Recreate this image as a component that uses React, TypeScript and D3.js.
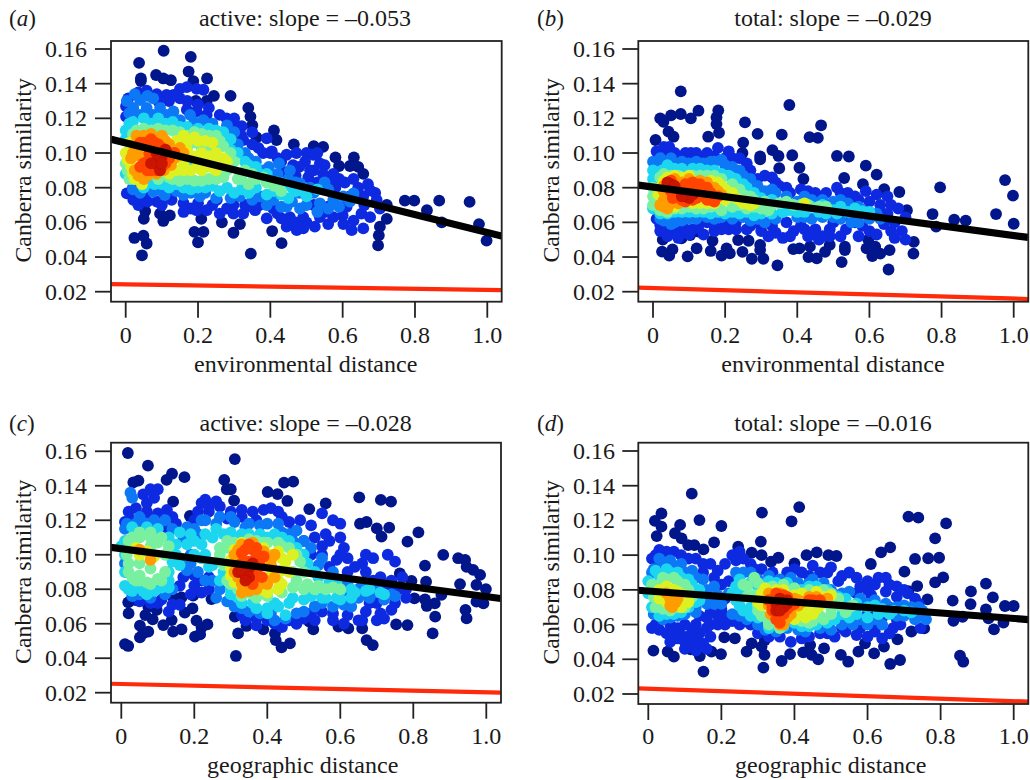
import React from "react";
import * as d3 from "d3";

type P = [number, number];

const xTicks = [0, 0.2, 0.4, 0.6, 0.8, 1.0];
const xTickLabels = ["0", "0.2", "0.4", "0.6", "0.8", "1.0"];
const yTicks = [0.02, 0.04, 0.06, 0.08, 0.1, 0.12, 0.14, 0.16];
const densityColours = ["#00138a", "#0a2be0", "#0c78f5", "#1cd6f0", "#78f0a0", "#dcf020", "#ff9c00", "#ff4400", "#c81200"];

const aL0: P[] = [[.105,.159],[.18,.1555],[.037,.152],[.174,.147],[.042,.143],[.042,.1415],[.084,.145],[.104,.143],[.125,.142],[.225,.143],[.187,.1415],[.29,.133],[.244,.133],[.224,.13],[.194,.13],[.339,.126],[.345,.121],[.35,.116],[.41,.113],[.362,.109],[.417,.1075],[.465,.105],[.52,.104],[.546,.1035],[.58,.0975],[.631,.0975],[.59,.0925],[.62,.0925],[.643,.092],[.657,.088],[.772,.0725],[.798,.0725],[.867,.0725],[.951,.0718],[.833,.067],[.977,.059],[.874,.06],[.998,.0495],[.722,.07],[.722,.062],[.698,.0467],[.7,.0525],[.703,.0575],[.431,.048],[.405,.055],[.346,.042],[.298,.054],[.316,.059],[.266,.06],[.2,.0485],[.19,.0545],[.215,.0545],[.209,.062],[.045,.041],[.058,.0478],[.024,.051],[.049,.0523],[.05,.062],[.054,.0665],[.104,.0608],[.095,.065],[.122,.064]];
const aL1: P[] = [[.15,.137],[.169,.138],[.196,.137],[.215,.1365],[.132,.1335],[.15,.1315],[.007,.1315],[.001,.127],[.001,.121],[.035,.135],[.058,.136],[.086,.134],[.113,.1335],[.169,.125],[.196,.124],[.224,.122],[.279,.12],[.298,.116],[.321,.1155],[.325,.1075],[.39,.1085],[.367,.103],[.404,.101],[.445,.099],[.472,.1],[.463,.093],[.496,.095],[.519,.099],[.537,.094],[.505,.086],[.546,.088],[.574,.088],[.606,.083],[.643,.08],[.676,.0785],[.657,.075],[.694,.073],[.703,.068],[.652,.065],[.676,.063],[.63,.061],[.657,.0565],[.625,.0555],[.602,.059],[.56,.059],[.523,.0575],[.491,.0565],[.473,.0555],[.445,.0575],[.431,.0623],[.39,.0623],[.358,.067],[.325,.065],[.298,.065],[.26,.065],[.224,.067],[.196,.067],[.16,.066],[.16,.071],[.252,.073],[.298,.07],[.335,.069],[.38,.071],[.408,.068],[.454,.063],[.491,.063],[.537,.063],[.574,.063],[.56,.069],[.611,.069],[.003,.0767],[.021,.073],[.035,.07],[.086,.072],[.127,.073],[.06,.072],[.4,.1],[.43,.095],[.47,.087],[.53,.083],[.58,.08],[.62,.075],[.66,.07],[.6,.064],[.55,.066],[.52,.07],[.5,.06],[.47,.06],[.42,.065],[.37,.07],[.33,.07],[.28,.068],[.24,.07],[.2,.071],[.18,.068],[.12,.077],[.02,.08],[.05,.075],[.1,.07],[.17,.13],[.12,.13],[.09,.13],[.2,.128],[.23,.126],[.26,.122],[.3,.12],[.32,.11],[.35,.105],[.38,.1],[.42,.097],[.51,.09],[.59,.085],[.63,.085],[.67,.082],[.69,.077],[.44,.089],[.48,.092],[.5,.1],[.53,.1],[.55,.093],[.57,.085],[.52,.09],[.35,.112]];
const aL2: P[] = [[.003,.13],[.04,.1305],[.076,.1315],[.021,.126],[.058,.126],[.095,.126],[.132,.124],[.178,.122],[.113,.122],[.215,.119],[.025,.134],[.06,.133],[.424,.094],[.396,.092],[.454,.09],[.482,.0825],[.537,.071],[.574,.073],[.602,.075],[.63,.0767],[.56,.079],[.52,.077],[.076,.0776],[.108,.0758],[.16,.0758],[.205,.075],[.25,.074],[.316,.075],[.371,.075],[.408,.073],[.445,.069],[.482,.068],[.3,.112],[.28,.116],[.33,.1],[.36,.095],[.01,.123],[.04,.122],[.075,.122],[.11,.118],[.15,.119],[.19,.118],[.24,.117],[.31,.105],[.34,.097],[.38,.09],[.42,.088],[.45,.085],[.48,.077],[.5,.07],[.53,.066],[.56,.068],[.59,.069],[.62,.072],[.46,.072],[.43,.069],[.39,.07],[.35,.073],[.29,.074],[.22,.077],[.18,.077],[.14,.078],[.1,.078],[.04,.077],[.02,.079],[.51,.08],[.55,.083],[.47,.083]];
const aL3: P[] = [[0,.113],[.02,.118],[.05,.12],[.09,.12],[.13,.118],[.17,.115],[.23,.114],[.27,.112],[.29,.108],[.31,.1],[.34,.093],[.37,.088],[.4,.084],[.44,.082],[.47,.078],[.5,.075],[.53,.079],[.45,.074],[.41,.078],[.36,.08],[.32,.079],[.28,.08],[.24,.081],[.2,.08],[.16,.08],[.12,.08],[.08,.082],[.05,.08],[0,.088],[.22,.092],[.26,.104],[.01,.117],[.07,.117],[.11,.117],[.15,.115],[.2,.114],[.25,.113],[.29,.102],[.33,.095],[.36,.092],[.39,.088],[.42,.083],[.46,.08],[.49,.078],[.43,.076],[.39,.076],[.34,.077],[.3,.077],[.26,.078],[.22,.08],[.18,.079],[.14,.082],[.1,.082],[.06,.083],[.02,.085],[0,.108],[.27,.092],[.25,.102],[.19,.094],[.16,.087]];
const aL4: P[] = [[.02,.111],[.05,.114],[.09,.114],[.13,.113],[.17,.11],[.21,.111],[.25,.11],[.27,.104],[.3,.095],[.33,.09],[.36,.085],[.39,.083],[.43,.078],[.31,.085],[.27,.086],[.23,.085],[.19,.084],[.15,.084],[.12,.086],[0,.094],[.01,.085],[.23,.104],[.19,.106],[.15,.112],[.11,.113],[.07,.113],[.03,.113],[.19,.112],[.23,.11],[.26,.107],[.21,.103],[.17,.103],[.29,.1],[.28,.09],[.25,.085],[.21,.084],[.17,.085],[.13,.085],[.09,.085],[.32,.085],[.35,.088],[.38,.086],[.41,.081],[.005,.09],[.005,.1],[.34,.082]];
const aL5: P[] = [[.03,.108],[.01,.106],[0,.1],[.015,.092],[.025,.085],[.045,.082],[.14,.107],[.17,.106],[.2,.107],[.24,.106],[.15,.1],[.19,.098],[.23,.098],[.27,.097],[.21,.09],[.18,.09],[.235,.092],[.14,.09],[.25,.09],[.12,.092],[.16,.11],[.19,.109],[.22,.107],[.17,.101],[.21,.1],[.25,.1],[.16,.094],[.2,.094],[.24,.095],[.12,.088],[.16,.09],[.02,.088],[.005,.096],[.02,.104],[.28,.095]];
const aL6: P[] = [[.025,.105],[.05,.11],[.1,.11],[.12,.105],[.015,.097],[.025,.09],[.05,.085],[.085,.088],[.13,.096],[.16,.1],[.02,.1],[.03,.11],[.07,.111],[.09,.108],[.11,.107],[.03,.103],[.04,.098],[.035,.087],[.06,.087],[.105,.09],[.14,.098],[.125,.093],[.15,.103]];
const aL7: P[] = [[.05,.106],[.07,.108],[.09,.105],[.065,.1],[.05,.094],[.07,.09],[.1,.092],[.12,.1],[.135,.1],[.04,.092],[.06,.104],[.08,.106],[.04,.106],[.1,.103],[.06,.095],[.06,.09],[.085,.09],[.11,.094],[.12,.097]];
const aL8: P[] = [[.085,.1],[.1,.098],[.11,.102],[.08,.094],[.095,.09],[.09,.096],[.1,.094],[.07,.094]];

const bL0: P[] = [[.077,.1356],[.378,.1277],[.466,.116],[.255,.1177],[.126,.1244],[.181,.1246],[.176,.1206],[.176,.1167],[.183,.1117],[.077,.1225],[.05,.1217],[.02,.12],[.029,.118],[.105,.12],[.043,.1123],[.057,.1094],[.007,.1075],[.153,.1094],[.29,.111],[.357,.1106],[.434,.1092],[.457,.1087],[.25,.106],[.248,.1],[.331,.1017],[.348,.0983],[.386,.0987],[.297,.098],[.297,.0963],[.51,.0983],[.543,.098],[.59,.0927],[.62,.0875],[.406,.0915],[.417,.085],[.35,.0912],[.53,.0856],[.582,.082],[.796,.0802],[.976,.0844],[.998,.0754],[.951,.0648],[1,.0592],[.867,.061],[.835,.0615],[.775,.0648],[.785,.0575],[.683,.0775],[.641,.0792],[.704,.067],[.723,.0487],[.722,.042],[.656,.044],[.653,.0328],[.523,.0371],[.345,.0352],[.306,.039],[.274,.039],[.248,.043],[.204,.045],[.19,.0408],[.213,.0421],[.16,.0435],[.121,.045],[.096,.0404],[.045,.0408],[.025,.0431],[.054,.0444],[.165,.0494],[.236,.0498],[.265,.0494],[.297,.047],[.297,.044],[.389,.0446],[.406,.045],[.431,.04],[.454,.0392],[.477,.043],[.532,.046],[.532,.044],[.592,.045],[.608,.0406],[.63,.042],[.616,.046],[.597,.05],[.49,.047],[.435,.046],[.027,.05],[.103,.0527],[.079,.0508],[.126,.0547]];
const bL1: P[] = [[.01,.101],[.03,.1035],[.045,.1035],[.015,.098],[.04,.098],[.08,.097],[.105,.1],[.13,.097],[.15,.1],[.18,.103],[.21,.101],[.24,.097],[.27,.09],[.29,.085],[.33,.086],[.35,.081],[.37,.08],[.41,.079],[.45,.077],[.48,.077],[.51,.08],[.54,.077],[.57,.073],[.6,.072],[.62,.076],[.65,.075],[.66,.07],[.68,.068],[.7,.063],[.69,.055],[.7,.05],[.67,.051],[.64,.059],[.6,.055],[.57,.052],[.535,.056],[.49,.056],[.46,.05],[.43,.052],[.39,.055],[.36,.051],[.32,.052],[.3,.055],[.26,.056],[.21,.056],[.19,.056],[.125,.057],[.1,.053],[.07,.056],[.05,.054],[.03,.057],[.01,.062],[.02,.0585],[.05,.061],[.08,.058],[.13,.06],[.17,.058],[.23,.06],[.33,.058],[.37,.06],[.41,.058],[.45,.056],[.5,.06],[.56,.06],[.63,.066],[.06,.1],[.09,.1],[.12,.1],[.17,.098],[.2,.097],[.22,.097],[.26,.094],[.31,.087],[.34,.083],[.38,.077],[.43,.078],[.47,.075],[.52,.077],[.56,.075],[.59,.078],[.63,.07],[.65,.065],[.67,.06],[.66,.055],[.62,.053],[.58,.058],[.55,.063],[.52,.052],[.47,.052],[.42,.056],[.38,.052],[.34,.054],[.3,.058],[.27,.058],[.23,.056],[.17,.055],[.14,.053],[.09,.056],[.06,.058],[.02,.055],[.04,.052],[.07,.051],[.11,.056],[.15,.06],[.2,.06],[.44,.053],[.49,.052]];
const bL2: P[] = [[.01,.095],[.03,.095],[.06,.094],[.1,.094],[.14,.094],[.17,.095],[.2,.093],[.24,.09],[.27,.085],[.31,.078],[.34,.077],[.4,.072],[.44,.073],[.5,.072],[.54,.071],[.58,.067],[.62,.065],[.57,.06],[.52,.062],[.47,.063],[.42,.063],[.36,.066],[.31,.06],[.27,.061],[.22,.062],[.17,.062],[.12,.062],[.07,.063],[.03,.061],[.05,.059],[.02,.097],[.05,.097],[.08,.095],[.12,.095],[.16,.095],[.19,.096],[.22,.092],[.25,.087],[.29,.081],[.33,.079],[.37,.075],[.42,.075],[.47,.073],[.52,.073],[.57,.069],[.6,.066],[.63,.062],[.6,.062],[.55,.06],[.5,.063],[.44,.062],[.4,.063],[.34,.062],[.29,.062],[.25,.063],[.19,.063],[.15,.063],[.1,.062],[.04,.062],[.02,.062],[.06,.06],[.08,.061],[0,.095]];
const bL3: P[] = [[0,.09],[.025,.09],[.06,.091],[.11,.091],[.15,.09],[.19,.088],[.23,.085],[.26,.08],[.3,.074],[.38,.07],[.44,.069],[.5,.067],[.54,.066],[.48,.065],[.42,.066],[.38,.067],[.33,.065],[.28,.064],[.24,.065],[.2,.065],[.16,.065],[.12,.066],[.08,.066],[.04,.065],[0,.068],[.58,.0665],[.04,.093],[.08,.091],[.13,.091],[.17,.09],[.21,.087],[.25,.082],[.28,.077],[.33,.073],[.36,.071],[.41,.07],[.47,.07],[.52,.069],[.56,.068],[.6,.066],[.51,.065],[.46,.066],[.4,.066],[.36,.066],[.3,.065],[.26,.066],[.22,.066],[.18,.066],[.14,.066],[.1,.066],[.06,.066],[.02,.065],[0,.085]];
const bL4: P[] = [[0,.075],[0,.08],[.01,.072],[.02,.086],[.05,.087],[.13,.087],[.17,.087],[.22,.082],[.25,.076],[.28,.073],[.3,.068],[.26,.068],[.22,.069],[.19,.067],[.16,.069],[.08,.068],[.12,.068],[.02,.067],[.33,.07],[.37,.072],[.41,.07],[.46,.069],[.01,.078],[0,.07],[.03,.088],[.07,.087],[.11,.087],[.15,.087],[.19,.085],[.24,.079],[.27,.075],[.31,.072],[.35,.071],[.39,.07],[.43,.07],[.48,.069],[.24,.07],[.28,.069],[.18,.069],[.14,.068],[.1,.069],[.06,.068],[.04,.066],[.32,.067]];
const bL5: P[] = [[.015,.076],[.03,.084],[.06,.087],[.1,.087],[.18,.083],[.2,.079],[.24,.073],[.27,.07],[.2,.073],[.22,.077],[.04,.069],[.13,.071],[.17,.071],[.42,.071],[.02,.08],[.04,.086],[.08,.086],[.16,.084],[.19,.081],[.21,.076],[.23,.074],[.18,.074],[.25,.071],[.28,.071],[.11,.071],[.06,.069],[.15,.071]];
const bL6: P[] = [[.03,.078],[.04,.068],[.08,.083],[.03,.073],[.15,.083],[.19,.076],[.02,.07],[.03,.081],[.03,.069],[.06,.085],[.1,.085],[.13,.084],[.17,.08],[.18,.078],[.05,.071],[.07,.071]];
const bL7: P[] = [[.04,.082],[.07,.079],[.12,.08],[.15,.08],[.055,.074],[.09,.072],[.14,.075],[.17,.072],[.16,.073],[.11,.083],[.13,.078],[.05,.084],[.05,.078],[.09,.082],[.1,.078],[.13,.082],[.16,.077],[.12,.074],[.15,.073],[.06,.076],[.08,.073],[.18,.075],[.11,.073]];
const bL8: P[] = [[.05,.082],[.09,.075],[.1,.074],[.04,.083],[.06,.081],[.08,.075],[.11,.076]];

const cL0: P[] = [[.018,.159],[.073,.1517],[.311,.1555],[.139,.147],[.173,.145],[.124,.1434],[.047,.143],[.033,.142],[.282,.1434],[.446,.1418],[.471,.1424],[.289,.138],[.3,.138],[.401,.1364],[.428,.1352],[.309,.1314],[.455,.1312],[.652,.1333],[.711,.1318],[.739,.1308],[.56,.1298],[.515,.1265],[.654,.118],[.672,.119],[.7,.1153],[.734,.1157],[.713,.1105],[.814,.113],[.784,.1076],[.882,.0999],[.923,.098],[.942,.097],[.832,.0937],[.946,.093],[.964,.0912],[.983,.0883],[.763,.0892],[.928,.083],[.973,.0825],[.999,.0801],[.795,.0848],[.835,.0844],[.803,.0747],[.832,.0741],[.837,.0703],[.877,.0767],[.859,.0718],[.973,.0728],[.992,.0718],[.943,.068],[.946,.0631],[.86,.0641],[.853,.0544],[.784,.0592],[.753,.0596],[.689,.0476],[.672,.0505],[.66,.0573],[.622,.0573],[.595,.0583],[.526,.0567],[.515,.0612],[.462,.0486],[.439,.0463],[.423,.0505],[.421,.0544],[.314,.0413],[.32,.0544],[.343,.0587],[.389,.0567],[.311,.0641],[.019,.0471],[.01,.0482],[.051,.0521],[.06,.0544],[.074,.0554],[.051,.0589],[.02,.066],[.019,.0724],[.039,.0737],[.086,.0625],[.066,.065],[.115,.0592],[.142,.0554],[.165,.0567],[.202,.0525],[.216,.0538],[.236,.0596],[.206,.0618],[.22,.0579],[.195,.0689],[.174,.0664],[.165,.0753],[.141,.0757],[.197,.0763],[.247,.0743],[.188,.1225],[.142,.1308],[.138,.0621],[.097,.068],[.074,.0699]];
const cL1: P[] = [[.04,.127],[.07,.125],[.1,.124],[.125,.126],[.14,.122],[.01,.119],[.03,.12],[.06,.135],[.08,.138],[.1,.138],[.07,.13],[.09,.133],[.22,.13],[.23,.132],[.26,.131],[.27,.128],[.3,.125],[.21,.125],[.24,.125],[.33,.122],[.36,.125],[.39,.126],[.41,.127],[.44,.122],[.46,.119],[.49,.12],[.52,.117],[.55,.124],[.58,.12],[.6,.118],[.53,.11],[.56,.112],[.6,.11],[.61,.104],[.55,.105],[.59,.097],[.62,.098],[.64,.093],[.67,.1],[.69,.098],[.67,.09],[.71,.087],[.74,.085],[.77,.087],[.73,.1],[.75,.096],[.76,.08],[.78,.075],[.68,.072],[.67,.067],[.72,.063],[.74,.068],[.7,.062],[.65,.062],[.61,.06],[.58,.062],[.52,.066],[.55,.067],[.48,.06],[.44,.058],[.4,.062],[.37,.063],[.34,.062],[.13,.067],[.16,.071],[.08,.072],[.11,.074],[.2,.082],[.22,.085],[.16,.082],[.22,.078],[.24,.08],[.02,.125],[.05,.118],[.08,.12],[.12,.116],[.15,.118],[.2,.12],[.24,.128],[.29,.121],[.33,.126],[.37,.12],[.43,.125],[.47,.113],[.5,.108],[.52,.1],[.55,.1],[.57,.108],[.6,.1],[.57,.093],[.62,.09],[.66,.095],[.69,.085],[.72,.082],[.74,.079],[.7,.072],[.71,.066],[.66,.062],[.62,.065],[.58,.066],[.53,.062],[.5,.063],[.46,.062],[.42,.06],[.37,.059],[.33,.065],[.2,.088],[.19,.077],[.24,.087],[.14,.071],[.05,.073],[.1,.072],[.17,.087],[.07,.077],[.75,.072],[.78,.08]];
const cL2: P[] = [[.025,.136],[.03,.133],[.015,.118],[.05,.122],[.09,.12],[.12,.12],[.23,.12],[.27,.122],[.31,.119],[.35,.118],[.4,.118],[.43,.118],[.48,.114],[.52,.104],[.55,.098],[.58,.09],[.62,.084],[.66,.083],[.7,.08],[.74,.077],[.65,.075],[.61,.071],[.55,.072],[.5,.067],[.45,.063],[.41,.066],[.35,.067],[.31,.07],[.27,.08],[.25,.085],[.21,.09],[.18,.091],[.05,.077],[.08,.075],[.12,.077],[.015,.09],[.19,.1],[.2,.115],[.17,.11],[.47,.108],[.01,.115],[.04,.118],[.07,.118],[.1,.117],[.14,.115],[.18,.116],[.21,.112],[.22,.12],[.26,.118],[.3,.122],[.34,.116],[.38,.117],[.44,.113],[.46,.112],[.5,.108],[.5,.096],[.54,.094],[.58,.085],[.62,.079],[.65,.08],[.69,.078],[.72,.074],[.75,.076],[.68,.075],[.63,.07],[.58,.07],[.53,.07],[.48,.066],[.42,.062],[.38,.066],[.33,.069],[.29,.073],[.26,.075],[.23,.085],[.19,.095],[.16,.095],[.03,.076],[.14,.08],[.01,.095]];
const cL3: P[] = [[.01,.108],[.01,.1],[.01,.082],[.03,.079],[.06,.079],[.09,.079],[.13,.081],[.15,.1],[.16,.113],[.18,.106],[.2,.108],[.23,.112],[.26,.115],[.3,.113],[.33,.112],[.38,.112],[.42,.112],[.46,.108],[.5,.1],[.53,.09],[.57,.084],[.6,.079],[.64,.078],[.68,.08],[.72,.077],[.6,.074],[.56,.075],[.52,.076],[.46,.072],[.43,.07],[.45,.065],[.4,.069],[.36,.072],[.32,.075],[.3,.08],[.28,.09],[.24,.093],[.22,.098],[.16,.094],[.13,.09],[0,.105],[.03,.116],[.07,.116],[.1,.115],[.13,.11],[.15,.106],[.19,.112],[.22,.106],[.25,.11],[.28,.112],[.31,.11],[.35,.112],[.4,.11],[.44,.11],[.48,.104],[.51,.095],[.54,.087],[.59,.083],[.63,.08],[.67,.079],[.71,.078],[.63,.075],[.59,.075],[.55,.075],[.5,.074],[.47,.075],[.42,.072],[.4,.066],[.37,.069],[.33,.072],[.3,.077],[.27,.085],[.25,.094],[.23,.1],[.2,.1],[.14,.096],[.13,.085],[.02,.08],[.05,.081],[.07,.077],[.11,.081],[.01,.09]];
const cL4: P[] = [[.02,.104],[.03,.11],[.05,.113],[.08,.113],[.11,.11],[.13,.105],[.02,.095],[.03,.087],[.05,.085],[.08,.083],[.11,.085],[.29,.108],[.33,.106],[.27,.1],[.29,.085],[.32,.08],[.36,.077],[.4,.076],[.43,.08],[.47,.081],[.5,.08],[.53,.08],[.56,.08],[.48,.1],[.44,.105],[.4,.107],[.37,.108],[.5,.09],[.015,.1],[.02,.108],[.05,.11],[.08,.11],[.1,.107],[.12,.1],[.02,.09],[.04,.085],[.07,.084],[.1,.086],[.12,.09],[.29,.104],[.31,.107],[.35,.109],[.39,.107],[.43,.107],[.46,.104],[.49,.096],[.47,.09],[.48,.085],[.44,.078],[.4,.078],[.34,.078],[.3,.083],[.28,.094],[.27,.104],[.51,.083],[.54,.082],[.58,.081],[.6,.08],[.37,.075],[.33,.076],[.05,.095],[.08,.092],[.05,.088],[.08,.105]];
const cL5: P[] = [[.07,.102],[.09,.099],[.05,.1],[.04,.104],[.3,.097],[.31,.103],[.36,.105],[.41,.1],[.44,.098],[.47,.1],[.46,.09],[.43,.085],[.3,.088],[.33,.081],[.38,.08],[.43,.08],[.33,.107],[.39,.104],[.43,.102],[.45,.096],[.44,.091],[.41,.088],[.3,.092],[.31,.084],[.35,.08],[.4,.078],[.44,.083]];
const cL6: P[] = [[.05,.103],[.08,.097],[.33,.099],[.32,.103],[.41,.097],[.38,.1],[.31,.09],[.36,.083],[.33,.083],[.4,.083],[.35,.079],[.31,.1],[.33,.106],[.36,.107],[.39,.102],[.42,.1],[.41,.094],[.42,.087],[.39,.086],[.37,.08],[.32,.087],[.33,.078],[.38,.083]];
const cL7: P[] = [[.34,.103],[.36,.103],[.37,.1],[.33,.095],[.36,.086],[.35,.09],[.38,.094],[.35,.106],[.33,.101],[.37,.104],[.39,.099],[.35,.096],[.33,.092],[.37,.088],[.385,.087],[.36,.083],[.37,.091]];
const cL8: P[] = [[.32,.09],[.34,.088],[.35,.092],[.34,.089],[.33,.091],[.35,.087],[.36,.095],[.34,.085]];

const dL0: P[] = [[.119,.1354],[.413,.1277],[.311,.1245],[.392,.1195],[.036,.124],[.018,.1197],[.036,.1164],[.14,.1202],[.2,.1168],[.087,.1174],[.023,.111],[.073,.1126],[.091,.1097],[.109,.1058],[.126,.1058],[.151,.1033],[.18,.1074],[.308,.1078],[.712,.1222],[.739,.1216],[.815,.1183],[.785,.1097],[.662,.1045],[.637,.1016],[.609,.0949],[.701,.0905],[.73,.0978],[.766,.0982],[.796,.0985],[.807,.0872],[.785,.0843],[.736,.0822],[.712,.0793],[.764,.0745],[.924,.0836],[.883,.0791],[.943,.0757],[.882,.0718],[.833,.0738],[.86,.0645],[.835,.0622],[.924,.0688],[.976,.0707],[1,.0707],[.972,.0611],[.946,.0572],[.931,.0636],[.853,.0421],[.862,.0386],[.689,.0396],[.662,.0373],[.682,.0515],[.645,.0473],[.618,.0434],[.593,.0492],[.575,.0444],[.547,.0386],[.527,.0425],[.481,.0463],[.465,.04],[.447,.0425],[.424,.044],[.388,.043],[.365,.039],[.315,.0352],[.318,.0425],[.31,.0473],[.319,.0511],[.283,.0492],[.269,.0444],[.237,.0521],[.208,.0526],[.199,.043],[.173,.0444],[.151,.0329],[.141,.0419],[.116,.0457],[.07,.0415],[.053,.0444],[.014,.045],[.443,.0482],[.72,.056],[.755,.0578],[.493,.1],[.515,.0995],[.433,.1],[.461,.1016],[.356,.0985],[.283,.1014],[.31,.1],[.4,.0953],[.336,.0962],[.246,.1049]];
const dL1: P[] = [[.02,.1],[.03,.103],[.07,.102],[.09,.1],[.13,.098],[.17,.095],[.15,.09],[.18,.087],[.21,.095],[.23,.1],[.26,.098],[.28,.095],[.31,.092],[.38,.09],[.42,.09],[.45,.094],[.49,.09],[.52,.085],[.55,.09],[.58,.082],[.62,.083],[.65,.087],[.68,.082],[.71,.078],[.74,.072],[.61,.077],[.65,.079],[.02,.06],[.03,.057],[.05,.055],[.08,.058],[.1,.06],[.13,.06],[.16,.058],[.19,.065],[.21,.06],[.25,.06],[.1,.05],[.13,.05],[.15,.049],[.17,.053],[.08,.052],[.12,.056],[.16,.064],[.2,.069],[.21,.075],[.22,.085],[.28,.06],[.33,.053],[.39,.05],[.42,.052],[.47,.055],[.51,.053],[.54,.056],[.57,.054],[.62,.056],[.66,.055],[.69,.06],[.64,.064],[.68,.063],[.6,.066],[.745,.058],[.025,.097],[.04,.093],[.05,.098],[.01,.098],[.05,.102],[.11,.098],[.15,.095],[.19,.091],[.2,.083],[.24,.097],[.25,.102],[.29,.092],[.34,.09],[.4,.092],[.44,.088],[.47,.09],[.5,.093],[.53,.088],[.57,.087],[.6,.085],[.63,.087],[.66,.083],[.7,.08],[.73,.075],[.57,.078],[.6,.08],[.68,.076],[.03,.062],[.01,.058],[.06,.06],[.07,.055],[.09,.054],[.11,.053],[.14,.055],[.17,.06],[.19,.06],[.17,.067],[.21,.065],[.23,.062],[.14,.065],[.12,.05],[.1,.046],[.13,.045],[.16,.046],[.06,.05],[.3,.055],[.36,.053],[.44,.053],[.49,.055],[.53,.058],[.6,.053],[.64,.052],[.67,.058],[.62,.06],[.58,.058]];
const dL2: P[] = [[.015,.092],[.04,.096],[.07,.094],[.1,.09],[.13,.087],[.16,.08],[.19,.077],[.22,.078],[.26,.09],[.3,.086],[.36,.086],[.41,.084],[.45,.086],[.5,.08],[.55,.079],[.6,.072],[.66,.07],[.7,.071],[.75,.068],[.76,.063],[.73,.063],[.7,.065],[.64,.06],[.6,.06],[.56,.06],[.5,.057],[.43,.056],[.38,.058],[.3,.06],[.27,.063],[.23,.066],[.13,.07],[.1,.066],[.06,.064],[.02,.068],[.18,.072],[.01,.09],[.03,.098],[.06,.097],[.09,.095],[.12,.091],[.15,.086],[.18,.082],[.24,.09],[.28,.09],[.33,.088],[.39,.087],[.44,.084],[.48,.084],[.53,.078],[.58,.075],[.62,.074],[.65,.072],[.68,.07],[.72,.07],[.74,.065],[.68,.065],[.62,.063],[.58,.063],[.53,.06],[.47,.058],[.41,.057],[.35,.056],[.32,.057],[.25,.065],[.2,.072],[.16,.072],[.13,.067],[.08,.065],[.04,.063],[.015,.066],[.12,.08],[.74,.07]];
const dL3: P[] = [[.01,.08],[.03,.088],[.06,.09],[.09,.087],[.12,.083],[.03,.065],[.07,.066],[.11,.07],[.14,.074],[.25,.086],[.3,.082],[.35,.084],[.42,.08],[.46,.082],[.52,.076],[.57,.072],[.62,.071],[.67,.068],[.72,.067],[.66,.066],[.6,.064],[.55,.064],[.49,.061],[.44,.059],[.4,.061],[.33,.058],[.3,.064],[.26,.068],[.24,.074],[.28,.07],[.02,.073],[.53,.066],[0,.085],[.02,.091],[.05,.092],[.08,.09],[.11,.086],[.14,.08],[.01,.07],[.05,.066],[.09,.067],[.13,.073],[.24,.082],[.28,.084],[.33,.085],[.38,.084],[.44,.082],[.49,.08],[.54,.075],[.6,.07],[.64,.069],[.7,.068],[.63,.066],[.57,.066],[.51,.063],[.46,.06],[.42,.059],[.37,.059],[.34,.06],[.28,.065],[.25,.071],[.23,.078],[0,.078],[.12,.078],[.26,.079]];
const dL4: P[] = [[.015,.076],[.03,.083],[.05,.086],[.08,.085],[.11,.08],[.04,.069],[.08,.07],[.27,.082],[.29,.087],[.32,.08],[.27,.076],[.31,.065],[.33,.06],[.45,.062],[.47,.065],[.5,.066],[.52,.071],[.55,.07],[.42,.062],[.5,.078],[.45,.078],[.37,.083],[.01,.083],[.02,.078],[.04,.087],[.07,.087],[.1,.083],[.12,.076],[.02,.07],[.06,.068],[.1,.07],[.26,.083],[.3,.084],[.34,.082],[.4,.081],[.44,.08],[.48,.08],[.52,.075],[.3,.068],[.3,.071],[.29,.077],[.33,.062],[.36,.058],[.44,.061],[.48,.063],[.5,.07],[.54,.067],[.56,.071]];
const dL5: P[] = [[.04,.078],[.07,.08],[.09,.074],[.11,.073],[.05,.073],[.32,.076],[.35,.08],[.4,.077],[.43,.071],[.46,.069],[.48,.076],[.5,.077],[.43,.064],[.41,.066],[.3,.073],[.03,.08],[.05,.082],[.08,.079],[.1,.077],[.09,.07],[.03,.075],[.32,.081],[.37,.08],[.42,.078],[.46,.079],[.31,.078],[.31,.071],[.47,.071],[.49,.074],[.42,.068],[.45,.066],[.4,.063]];
const dL6: P[] = [[.07,.072],[.075,.073],[.06,.071],[.33,.074],[.36,.06],[.38,.064],[.39,.069],[.41,.074],[.48,.073],[.44,.076],[.335,.066],[.05,.078],[.06,.075],[.08,.075],[.065,.07],[.33,.078],[.36,.078],[.4,.075],[.42,.073],[.46,.076],[.49,.075],[.33,.071],[.37,.06],[.39,.066],[.41,.071]];
const dL7: P[] = [[.35,.075],[.38,.076],[.45,.074],[.47,.074],[.34,.068],[.35,.063],[.37,.066],[.34,.07],[.39,.071],[.35,.078],[.37,.077],[.44,.074],[.33,.074],[.34,.072],[.36,.065],[.38,.069],[.4,.072],[.36,.061]];
const dL8: P[] = [[.36,.071],[.37,.073],[.38,.072],[.36,.075],[.35,.072],[.37,.07],[.38,.074],[.35,.068],[.36,.068]];

const aBlack: P[] = [[-.0405,.1079],[1.04,.0521]];
const aRed: P[] = [[-.0405,.0244],[1.04,.0209]];
const bBlack: P[] = [[-.0405,.0815],[1.04,.0513]];
const bRed: P[] = [[-.0405,.0223],[1.04,.0158]];
const cBlack: P[] = [[-.03,.1043],[1.04,.0746]];
const cRed: P[] = [[-.03,.0252],[1.04,.02]];
const dBlack: P[] = [[-.03,.0798],[1.04,.0629]];
const dRed: P[] = [[-.03,.0233],[1.04,.0156]];

const panels = [
  { tag: "a", title: "active: slope = –0.053", xLabel: "environmental distance", levels: [aL0, aL1, aL2, aL3, aL4, aL5, aL6, aL7, aL8], black: aBlack, red: aRed,
    box: [111, 41, 501.7, 301.7], x0: 125.7, x1: 487.3, y16: 49, y02: 291.7, tagX: 9, tickRight: 87, yLabelX: 30.5, titleX: 305, xLabelX: 305.7, titleY: 25.7, tickLabelY: 342.7, xLabelY: 371.7 },
  { tag: "b", title: "total: slope = –0.029", xLabel: "environmental distance", levels: [bL0, bL1, bL2, bL3, bL4, bL5, bL6, bL7, bL8], black: bBlack, red: bRed,
    box: [638.3, 41, 1028.3, 301.7], x0: 653, x1: 1013.7, y16: 49, y02: 291.7, tagX: 537, tickRight: 615, yLabelX: 558.5, titleX: 833, xLabelX: 833, titleY: 25.7, tickLabelY: 342.7, xLabelY: 371.7 },
  { tag: "c", title: "active: slope = –0.028", xLabel: "geographic distance", levels: [cL0, cL1, cL2, cL3, cL4, cL5, cL6, cL7, cL8], black: cBlack, red: cRed,
    box: [111, 442.7, 501, 702.7], x0: 121.3, x1: 486.3, y16: 451.3, y02: 692.7, tagX: 9, tickRight: 87, yLabelX: 30.5, titleX: 305.7, xLabelX: 302.7, titleY: 430.7, tickLabelY: 744, xLabelY: 773 },
  { tag: "d", title: "total: slope = –0.016", xLabel: "geographic distance", levels: [dL0, dL1, dL2, dL3, dL4, dL5, dL6, dL7, dL8], black: dBlack, red: dRed,
    box: [638.3, 442.7, 1028.3, 704], x0: 648.3, x1: 1013.7, y16: 451, y02: 694, tagX: 537, tickRight: 615, yLabelX: 558.5, titleX: 833, xLabelX: 830.7, titleY: 430.7, tickLabelY: 744, xLabelY: 773 },
];

const serif = "'Liberation Serif', serif";

function Panel({ p }: { p: (typeof panels)[number] }) {
  const x = d3.scaleLinear().domain([0, 1]).range([p.x0, p.x1]);
  const y = d3.scaleLinear().domain([0.02, 0.16]).range([p.y02, p.y16]);
  const line = d3.line<P>().x((d) => x(d[0])).y((d) => y(d[1]));
  const [l, t, r, b] = p.box;
  const clipId = `clip-${p.tag}`;
  return (
    <g fontFamily={serif} fill="#1a1a1a">
      <clipPath id={clipId}>
        <rect x={l} y={t} width={r - l} height={b - t} />
      </clipPath>
      <g clipPath={`url(#${clipId})`}>
        <g filter="url(#soft)">
          {p.levels.map((pts, i) =>
            pts.map((d, j) => <circle key={`${i}-${j}`} cx={x(d[0])} cy={y(d[1])} r={5.9} fill={densityColours[i]} />)
          )}
        </g>
        <path d={line(p.black) as string} stroke="#000" strokeWidth={7.2} fill="none" />
        <path d={line(p.red) as string} stroke="#ff2a0a" strokeWidth={4.2} fill="none" />
      </g>
      <rect x={l} y={t} width={r - l} height={b - t} fill="none" stroke="#222" strokeWidth={1.8} />
      {yTicks.map((v) => (
        <g key={v}>
          <line x1={l - 16} x2={l} y1={y(v)} y2={y(v)} stroke="#222" strokeWidth={1.8} />
          <text x={p.tickRight} y={y(v) + 8} textAnchor="end" fontSize={24}>{v.toFixed(2)}</text>
        </g>
      ))}
      {xTicks.map((v, i) => (
        <g key={v}>
          <line x1={x(v)} x2={x(v)} y1={b} y2={b + 16} stroke="#222" strokeWidth={1.8} />
          <text x={x(v)} y={p.tickLabelY} textAnchor="middle" fontSize={24}>{xTickLabels[i]}</text>
        </g>
      ))}
      <text x={p.tagX} y={p.titleY} fontSize={23}>(<tspan fontStyle="italic">{p.tag}</tspan>)</text>
      <text x={p.titleX} y={p.titleY} textAnchor="middle" fontSize={24}>{p.title}</text>
      <text x={p.xLabelX} y={p.xLabelY} textAnchor="middle" fontSize={24}>{p.xLabel}</text>
      <text transform={`translate(${p.yLabelX},${(t + b) / 2 - 1}) rotate(-90)`} textAnchor="middle" fontSize={23.8}>Canberra similarity</text>
    </g>
  );
}

export default function App() {
  return (
    <svg width={1030} height={780} viewBox="0 0 1030 780" style={{ position: "absolute", left: 0, top: 0, background: "#fff" }}>
      <defs>
        <filter id="soft" x="-5%" y="-5%" width="110%" height="110%">
          <feGaussianBlur stdDeviation={0.5} />
        </filter>
      </defs>
      {panels.map((p) => <Panel key={p.tag} p={p} />)}
    </svg>
  );
}
